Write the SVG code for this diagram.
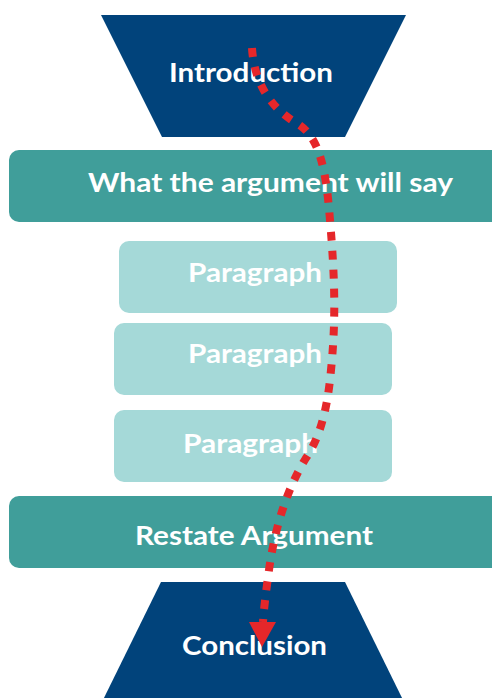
<svg xmlns="http://www.w3.org/2000/svg" width="492" height="698" viewBox="0 0 492 698">
<style>
.dark{fill:#01437b}
.teal{fill:#409e9a}
.light{fill:#a5d9d8}
.lbl{font-family:Lato,"Open Sans","Liberation Sans",sans-serif;font-weight:bold;fill:#ffffff}
.big{font-size:26px}
.conn{fill:none;stroke:#e5272a;stroke-width:8;stroke-dasharray:9 10}
</style>
<rect width="492" height="698" fill="#ffffff"/>
<g id="introduction">
<polygon class="dark" points="101,15 406,15 345,137 162,137"/>
<text class="lbl big" x="169" y="82" textLength="164" lengthAdjust="spacingAndGlyphs">Introduction</text>
</g>
<g id="what-argument">
<rect class="teal" x="9" y="150" width="495" height="72" rx="10"/>
<text class="lbl big" x="88" y="192" textLength="365" lengthAdjust="spacingAndGlyphs">What the argument will say</text>
</g>
<g id="paragraph1">
<rect class="light" x="119" y="241" width="278" height="72" rx="10"/>
<text class="lbl big" x="188" y="282" textLength="134" lengthAdjust="spacingAndGlyphs">Paragraph</text>
</g>
<g id="paragraph2">
<rect class="light" x="114" y="323" width="278" height="72" rx="10"/>
<text class="lbl big" x="188" y="363" textLength="134" lengthAdjust="spacingAndGlyphs">Paragraph</text>
</g>
<g id="paragraph3">
<rect class="light" x="114" y="410" width="278" height="72" rx="10"/>
<text class="lbl big" x="183" y="453" textLength="135" lengthAdjust="spacingAndGlyphs">Paragraph</text>
</g>
<g id="restate">
<rect class="teal" x="9" y="496" width="495" height="72" rx="10"/>
<text class="lbl big" x="135" y="545" textLength="238" lengthAdjust="spacingAndGlyphs">Restate Argument</text>
</g>
<g id="conclusion">
<polygon class="dark" points="161,582 345,582 405,704 101,704"/>
<text class="lbl big" x="182" y="655" textLength="145" lengthAdjust="spacingAndGlyphs">Conclusion</text>
</g>
<g id="connectors">
<path class="conn" d="M252,48 C254,82 270,108 298,124 C320,138 326,170 330,220 C335,280 336,320 331,370 C327,415 318,440 306,458 C290,484 276,520 269,570 C266,592 264,607 263,622"/>
<polygon fill="#e5272a" points="249,622 276,622 262,647"/>
</g>
</svg>
